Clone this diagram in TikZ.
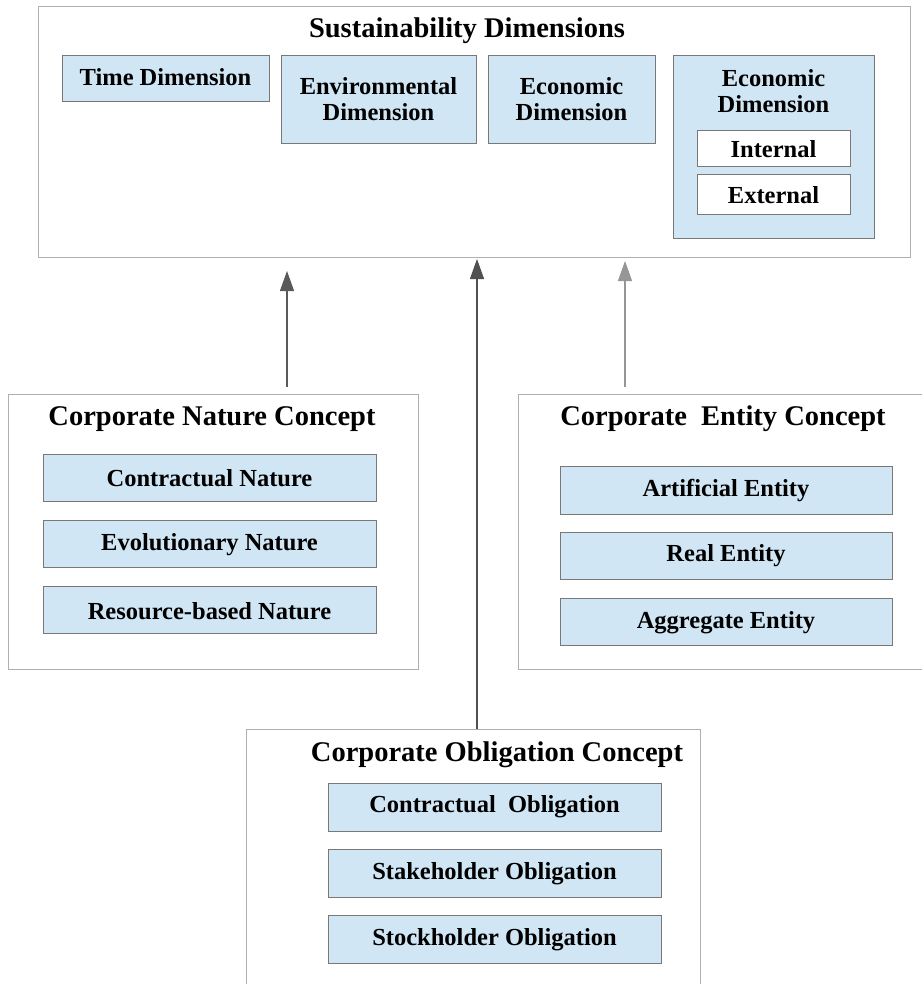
\documentclass[tikz,border=0pt]{standalone}
\usepackage{fontspec}
\setmainfont{Liberation Serif}
\usetikzlibrary{arrows.meta}
\definecolor{boxblue}{RGB}{209,230,244}
\definecolor{outerline}{RGB}{175,175,175}
\definecolor{innerline}{RGB}{120,120,120}
\tikzset{
  outerbox/.style={draw=outerline, line width=1pt, fill=white, anchor=north west, inner sep=0pt},
  bluebox/.style={draw=innerline, line width=0.9pt, fill=boxblue, anchor=north west, inner sep=0pt},
  whitebox/.style={bluebox, fill=white},
  label/.style={align=center, inner sep=0pt, font=\bfseries\fontsize{24.5}{26}\selectfont},
  titletext/.style={inner sep=0pt, font=\bfseries\fontsize{28.5}{32}\selectfont},
  arr/.style={line width=1.1pt, -{Triangle[length=20pt,width=14pt]}},
}
\begin{document}
\begin{tikzpicture}[x=1pt,y=-1pt]
\useasboundingbox (0,0) rectangle (921,984);
% Sustainability dimensions
\node[outerbox, minimum width=872pt, minimum height=251pt] (sus) at (38,6) {};
\node[titletext] (sust) at (467,31) {Sustainability Dimensions};
\node[bluebox, minimum width=207pt, minimum height=46pt] (time) at (62,55) {};
\node[label] (timet) at (165.5,77) {Time Dimension};
\node[bluebox, minimum width=195pt, minimum height=88pt] (env) at (281,55) {};
\node[label] (envt) at (378.5,99) {Environmental\\Dimension};
\node[bluebox, minimum width=167pt, minimum height=88pt] (eco) at (488,55) {};
\node[label] (ecot) at (571.5,99) {Economic\\Dimension};
\node[bluebox, minimum width=201pt, minimum height=183pt] (eco2) at (673,55) {};
\node[label] (eco2t) at (773.5,91) {Economic\\Dimension};
\node[whitebox, minimum width=153pt, minimum height=36pt] (int) at (697,130) {};
\node[label] (intt) at (773.5,149) {Internal};
\node[whitebox, minimum width=153pt, minimum height=40pt] (ext) at (697,174) {};
\node[label] (extt) at (773.5,195) {External};
% Nature
\node[outerbox, minimum width=410pt, minimum height=275pt] (nat) at (8,394) {};
\node[titletext] (natt) at (212,419) {Corporate Nature Concept};
\node[bluebox, minimum width=333pt, minimum height=47pt] (n1) at (43,454) {};
\node[label] (n1t) at (209.5,478) {Contractual Nature};
\node[bluebox, minimum width=333pt, minimum height=47pt] (n2) at (43,520) {};
\node[label] (n2t) at (209.5,545) {Evolutionary Nature};
\node[bluebox, minimum width=333pt, minimum height=47pt] (n3) at (43,586) {};
\node[label] (n3t) at (209.5,611) {Resource-based Nature};
% Entity
\node[outerbox, minimum width=410pt, minimum height=275pt] (ent) at (518,394) {};
\node[titletext] (entt) at (723,419) {Corporate\ \ Entity Concept};
\node[bluebox, minimum width=332pt, minimum height=48pt] (e1) at (560,466) {};
\node[label] (e1t) at (726,491) {Artificial Entity};
\node[bluebox, minimum width=332pt, minimum height=47pt] (e2) at (560,532) {};
\node[label] (e2t) at (726,556) {Real Entity};
\node[bluebox, minimum width=332pt, minimum height=47pt] (e3) at (560,598) {};
\node[label] (e3t) at (726,623) {Aggregate Entity};
% Obligation
\node[outerbox, minimum width=454pt, minimum height=270pt] (obl) at (246,729) {};
\node[titletext] (oblt) at (497,755) {Corporate Obligation Concept};
\node[bluebox, minimum width=333pt, minimum height=48pt] (o1) at (328,783) {};
\node[label] (o1t) at (494.5,807) {Contractual\ \ Obligation};
\node[bluebox, minimum width=333pt, minimum height=48pt] (o2) at (328,849) {};
\node[label] (o2t) at (494.5,874) {Stakeholder Obligation};
\node[bluebox, minimum width=333pt, minimum height=48pt] (o3) at (328,915) {};
\node[label] (o3t) at (494.5,940) {Stockholder Obligation};
% arrows
\coordinate (a1) at (287,0);
\coordinate (a2) at (477,0);
\coordinate (a3) at (625,0);
\draw[arr, draw={rgb,255:red,90;green,90;blue,90}, shorten <=7pt, shorten >=13pt] (nat.north -| a1) -- (sus.south -| a1);
\draw[arr, draw={rgb,255:red,80;green,80;blue,80}, shorten >=1pt] (obl.north -| a2) -- (sus.south -| a2);
\draw[arr, draw={rgb,255:red,150;green,150;blue,150}, shorten <=7pt, shorten >=3pt] (ent.north -| a3) -- (sus.south -| a3);
\end{tikzpicture}
\end{document}
